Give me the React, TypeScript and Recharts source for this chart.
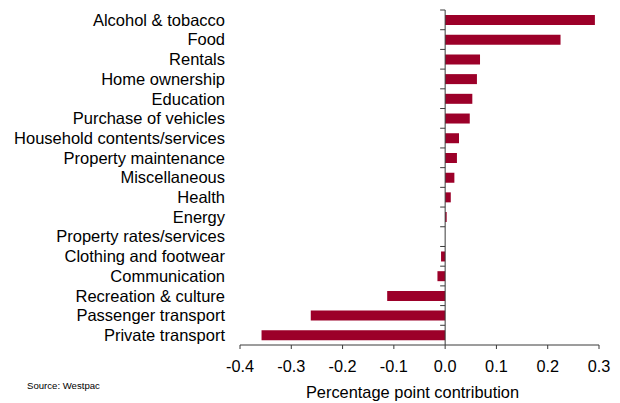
import React from "react";
import { BarChart, Bar, XAxis, YAxis, ReferenceLine } from "recharts";

const categories = [
  "Alcohol & tobacco",
  "Food",
  "Rentals",
  "Home ownership",
  "Education",
  "Purchase of vehicles",
  "Household contents/services",
  "Property maintenance",
  "Miscellaneous",
  "Health",
  "Energy",
  "Property rates/services",
  "Clothing and footwear",
  "Communication",
  "Recreation & culture",
  "Passenger transport",
  "Private transport",
];

const contributions = [
  0.292, 0.225, 0.068, 0.062, 0.053, 0.048, 0.027, 0.023, 0.018, 0.011, 0.003,
  0.0, -0.008, -0.015, -0.113, -0.262, -0.358,
];

const xTicks = [-0.4, -0.3, -0.2, -0.1, 0.0, 0.1, 0.2, 0.3];

const data = categories.map((name, i) => ({ name, value: contributions[i] }));

const FONT = "Arial, 'Liberation Sans', sans-serif";
const AXIS = "#3a3a3a";
const BAR = "#9c0029";

const ZeroAxis = (props: any) => {
  const { x1, y1, x2, y2 } = props;
  const top = Math.min(y1, y2);
  const bottom = Math.max(y1, y2);
  const n = categories.length;
  const step = (bottom - top) / n;
  const ticks = [];
  for (let i = 0; i < n; i++) {
    const y = top + i * step;
    ticks.push(
      <line key={i} x1={x1 - 5} x2={x1} y1={y} y2={y} stroke={AXIS} strokeWidth={1} />
    );
  }
  return (
    <g>
      <line x1={x1} x2={x2} y1={y1} y2={y2} stroke={AXIS} strokeWidth={1} />
      {ticks}
    </g>
  );
};

export default function App() {
  return (
    <div style={{ position: "absolute", left: 0, top: 0, width: 620, height: 403, fontFamily: FONT, background: "#fff" }}>
      <BarChart
        width={620}
        height={403}
        data={data}
        layout="vertical"
        margin={{ top: 10, right: 21, left: 0, bottom: 0 }}
      >
        <XAxis
          type="number"
          domain={[-0.4, 0.3]}
          ticks={xTicks}
          allowDataOverflow
          tickFormatter={(v: number) => v.toFixed(1)}
          height={58}
          tickSize={4}
          tickMargin={11}
          axisLine={{ stroke: AXIS }}
          tickLine={{ stroke: AXIS }}
          tick={{ fill: "#000", fontSize: 16.3, fontFamily: FONT }}
          label={{
            value: "Percentage point contribution",
            position: "insideBottom",
            offset: 5,
            dx: -7,
            fill: "#000",
            fontSize: 16.4,
            fontFamily: FONT,
          }}
        />
        <YAxis
          type="category"
          dataKey="name"
          width={240}
          interval={0}
          axisLine={false}
          tickLine={false}
          tickSize={0}
          tickMargin={15}
          tick={{ fill: "#000", fontSize: 16.5, fontFamily: FONT }}
        />
        <Bar dataKey="value" fill={BAR} barSize={10} isAnimationActive={false} />
        <ReferenceLine x={0} shape={ZeroAxis} />
      </BarChart>
      <div
        style={{
          position: "absolute",
          left: 27,
          top: 380,
          fontSize: 9.6,
          fontFamily: FONT,
          color: "#000",
          whiteSpace: "nowrap",
        }}
      >
        Source: Westpac
      </div>
    </div>
  );
}
